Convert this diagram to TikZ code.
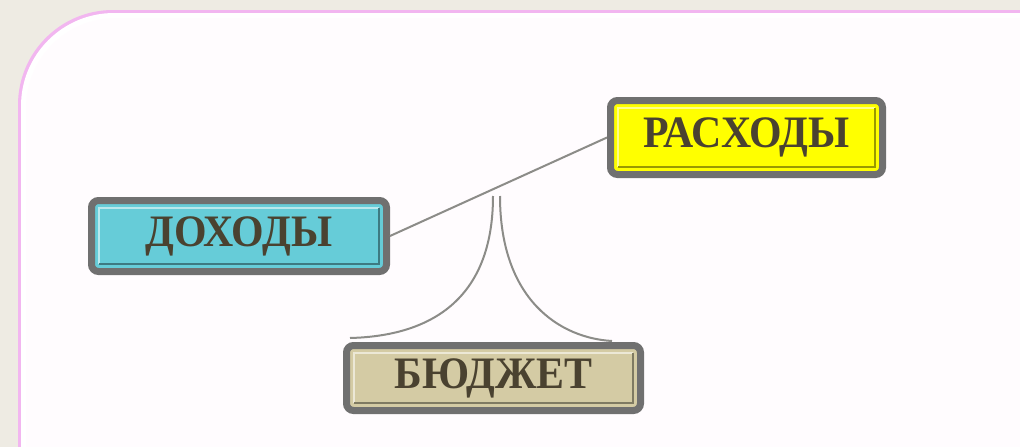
\documentclass[tikz,border=0pt]{standalone}
\usepackage{fontspec}
\setmainfont{Liberation Serif}
\definecolor{bgc}{HTML}{EEEBE3}
\definecolor{panelc}{HTML}{FFFCFE}
\definecolor{pinkc}{HTML}{F2B6F0}
\definecolor{framec}{HTML}{707070}
\definecolor{txtc}{HTML}{4A4230}
\definecolor{linec}{HTML}{8C8C88}
\definecolor{cyanc}{HTML}{66CCD8}
\definecolor{yelc}{HTML}{FFFF00}
\definecolor{beigec}{HTML}{D4CBA4}
\newcommand{\sqz}[1]{\scalebox{0.93}[1]{#1}}
\begin{document}
\begin{tikzpicture}[x=1pt,y=-1pt,
  boxnode/.style={draw=framec,line width=7pt,rounded corners=7pt,inner sep=0pt,
    font=\fontsize{45}{45}\selectfont\bfseries,text=txtc},
  conn/.style={draw=linec,line width=2pt}]
\useasboundingbox (0,0) rectangle (1020,447);
\fill[bgc] (0,0) rectangle (1020,447);
% panel
\fill[pinkc] (18,460) -- (18,105) arc[start angle=180,end angle=270,radius=95] -- (1030,10) -- (1030,460) -- cycle;
\fill[white] (21,460) -- (21,106) arc[start angle=180,end angle=270,radius=93] -- (1030,13) -- (1030,460) -- cycle;
\fill[panelc] (26,460) -- (26,108) arc[start angle=180,end angle=270,radius=90] -- (1030,18) -- (1030,460) -- cycle;
% nodes
\node[boxnode,fill=cyanc,minimum width=295pt,minimum height=71pt] (dox) at (239,236) {\sqz{ДОХОДЫ}};
\node[boxnode,fill=yelc,minimum width=272pt,minimum height=74pt] (ras) at (746.5,137.5) {\sqz{РАСХОДЫ}};
\node[boxnode,fill=beigec,minimum width=294pt,minimum height=65pt] (bud) at (493.5,378) {\sqz{БЮДЖЕТ}};
% bevels
\foreach \n/\c in {dox/cyanc,ras/yelc,bud/beigec}{
  \draw[\c!45!white,line width=1.8pt] ([shift={(11pt,11pt)}]\n.south west) |- ([shift={(-11pt,-11pt)}]\n.north east);
  \draw[\c!60!black,line width=1.4pt] ([shift={(11pt,11pt)}]\n.south west) -| ([shift={(-11pt,-11pt)}]\n.north east);
}
% connectors
\coordinate (jl) at (493,196);
\coordinate (jr) at (500,196);
\coordinate (bl) at (350,338);
\coordinate (br) at (612,341);
\draw[conn] (dox.east) -- (ras.west);
\draw[conn] (jl) .. controls (493,300) and (430,336) .. (bl);
\draw[conn] (jr) .. controls (500,300) and (560,338) .. (br);
\end{tikzpicture}
\end{document}
